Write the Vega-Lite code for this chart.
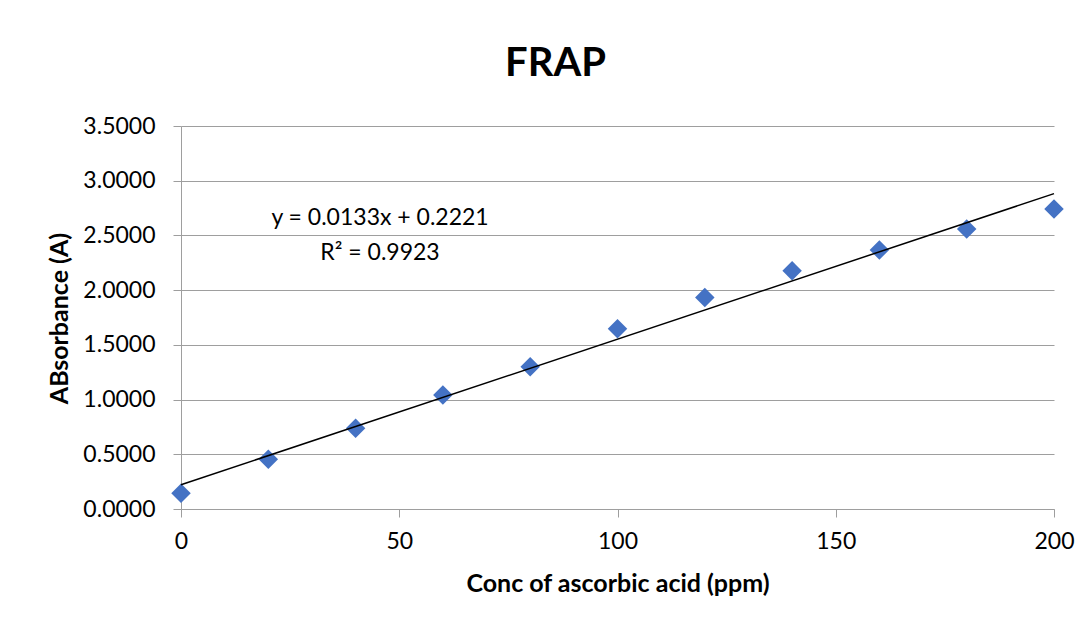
{
  "$schema": "https://vega.github.io/schema/vega-lite/v6.json",
  "autosize": {"type": "none"},
  "width": 873,
  "height": 383,
  "padding": {"left": 181, "top": 126, "right": 36, "bottom": 115},
  "background": "white",
  "config": {
    "font": "Lato",
    "view": {"stroke": null},
    "axis": {
      "labelFont": "Lato",
      "labelFontSize": 23,
      "labelColor": "#000000",
      "labelFlush": false,
      "titleFont": "Lato",
      "titleFontWeight": "bold",
      "titleFontSize": 25,
      "titleColor": "#000000",
      "domainColor": "#9e9e9e",
      "tickColor": "#9e9e9e",
      "gridColor": "#9e9e9e",
      "tickSize": 8
    }
  },
  "title": {
    "text": "FRAP",
    "font": "Lato",
    "fontSize": 40,
    "fontWeight": "bold",
    "color": "#000000",
    "anchor": "middle",
    "dx": -62,
    "offset": 31
  },
  "datasets": {
    "readings": [
      {"conc": 0, "abs": 0.143},
      {"conc": 20, "abs": 0.454},
      {"conc": 40, "abs": 0.738},
      {"conc": 60, "abs": 1.042},
      {"conc": 80, "abs": 1.301},
      {"conc": 100, "abs": 1.648},
      {"conc": 120, "abs": 1.932},
      {"conc": 140, "abs": 2.178},
      {"conc": 160, "abs": 2.367},
      {"conc": 180, "abs": 2.559},
      {"conc": 200, "abs": 2.742}
    ],
    "trend": [
      {"conc": 0, "abs": 0.2221},
      {"conc": 200, "abs": 2.8821}
    ],
    "notes": [
      {"conc": 45.6, "abs": 2.66, "label": "y = 0.0133x + 0.2221"},
      {"conc": 45.6, "abs": 2.34, "label": "R² = 0.9923"}
    ]
  },
  "layer": [
    {
      "data": {"name": "readings"},
      "mark": {"type": "point", "shape": "diamond", "filled": true, "size": 380, "color": "#4472C4", "opacity": 1},
      "encoding": {
        "x": {
          "field": "conc",
          "type": "quantitative",
          "scale": {"domain": [0, 200], "nice": false, "zero": false},
          "axis": {
            "values": [0, 50, 100, 150, 200],
            "grid": false,
            "title": "Conc of ascorbic acid (ppm)",
            "labelPadding": 13,
            "titlePadding": 18
          }
        },
        "y": {
          "field": "abs",
          "type": "quantitative",
          "scale": {"domain": [0, 3.5], "nice": false},
          "axis": {
            "values": [0, 0.5, 1, 1.5, 2, 2.5, 3, 3.5],
            "format": ".4f",
            "grid": true,
            "title": "ABsorbance (A)",
            "labelPadding": 18,
            "titlePadding": 10,
            "titleY": 192
          }
        }
      }
    },
    {
      "data": {"name": "trend"},
      "mark": {"type": "line", "color": "#000000", "strokeWidth": 1.5},
      "encoding": {
        "x": {"field": "conc", "type": "quantitative"},
        "y": {"field": "abs", "type": "quantitative"}
      }
    },
    {
      "data": {"name": "notes"},
      "mark": {"type": "text", "font": "Lato", "fontSize": 23, "color": "#000000", "align": "center", "baseline": "middle"},
      "encoding": {
        "x": {"field": "conc", "type": "quantitative"},
        "y": {"field": "abs", "type": "quantitative"},
        "text": {"field": "label"}
      }
    }
  ]
}
